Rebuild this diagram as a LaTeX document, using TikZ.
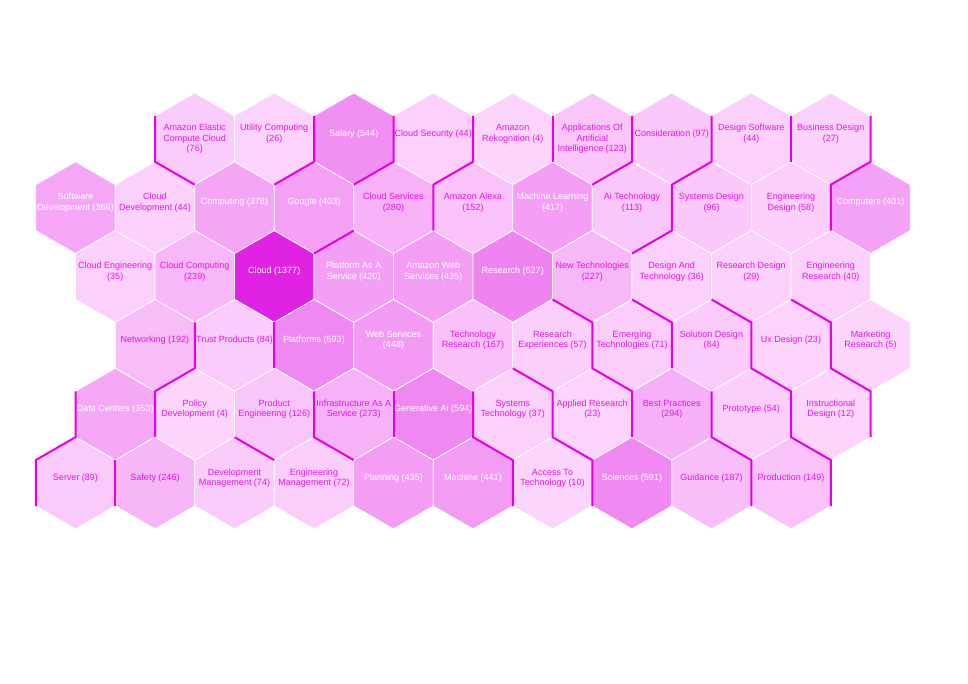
\documentclass[tikz,border=0pt]{standalone}
\usepackage{fontspec}
\setmainfont{Liberation Sans}
\usetikzlibrary{shapes.geometric}

\definecolor{hexlo}{RGB}{252,214,252}
\definecolor{hexhi}{RGB}{224,34,228}
\definecolor{hexink}{RGB}{230,20,230}
\definecolor{hexline}{RGB}{230,0,230}

\tikzset{
  hexcell/.style={regular polygon, regular polygon sides=6, regular polygon rotate=30,
    minimum size=68.85pt, inner sep=0pt, outer sep=0pt, draw=white, line width=0.6pt},
  hextext/.style={align=center, inner sep=0pt, font=\fontsize{6.75}{7.8}\selectfont},
  bound/.style={draw=hexline, line width=1.5pt}
}

% name, column, row, count, text
\newcommand{\hexcell}[6][3.75pt]{%
  \pgfmathsetmacro{\hexp}{#5/13.77}%
  \ifnum#5>299 \def\hexfg{white}\else\def\hexfg{hexink}\fi
  \node[hexcell, fill=hexhi!\hexp!hexlo,
    label={[hextext, text=\hexfg, yshift=#1]center:{#6}}]
    (#2) at ({75.5+39.75*#3},{138.8+68.85*(#4-1)}) {};
}

\begin{document}
\begin{tikzpicture}[x=0.75pt, y=-0.75pt]
\useasboundingbox (0,0) rectangle (968,684);

\hexcell[0pt]{aecc}{3}{1}{76}{Amazon Elastic\\Compute Cloud\\(76)}
\hexcell{util}{5}{1}{26}{Utility Computing\\(26)}
\hexcell{salary}{7}{1}{544}{Salary (544)}
\hexcell{csec}{9}{1}{44}{Cloud Security (44)}
\hexcell{rekog}{11}{1}{4}{Amazon\\Rekognition (4)}
\hexcell[0pt]{aai}{13}{1}{123}{Applications Of\\Artificial\\Intelligence (123)}
\hexcell{consid}{15}{1}{97}{Consideration (97)}
\hexcell{dsoft}{17}{1}{44}{Design Software\\(44)}
\hexcell{bdes}{19}{1}{27}{Business Design\\(27)}

\hexcell{sdev}{0}{2}{366}{Software\\Development (366)}
\hexcell{cdev}{2}{2}{44}{Cloud\\Development (44)}
\hexcell{comp}{4}{2}{378}{Computing (378)}
\hexcell{google}{6}{2}{403}{Google (403)}
\hexcell{csvc}{8}{2}{280}{Cloud Services\\(280)}
\hexcell{alexa}{10}{2}{152}{Amazon Alexa\\(152)}
\hexcell{ml}{12}{2}{417}{Machine Learning\\(417)}
\hexcell{aitech}{14}{2}{113}{Ai Technology\\(113)}
\hexcell{sysdes}{16}{2}{96}{Systems Design\\(96)}
\hexcell{engdes}{18}{2}{58}{Engineering\\Design (58)}
\hexcell{computers}{20}{2}{401}{Computers (401)}

\hexcell{ceng}{1}{3}{35}{Cloud Engineering\\(35)}
\hexcell{ccomp}{3}{3}{239}{Cloud Computing\\(239)}
\hexcell{cloud}{5}{3}{1377}{Cloud (1377)}
\hexcell{paas}{7}{3}{420}{Platform As A\\Service (420)}
\hexcell{aws}{9}{3}{435}{Amazon Web\\Services (435)}
\hexcell{research}{11}{3}{627}{Research (627)}
\hexcell{newtech}{13}{3}{227}{New Technologies\\(227)}
\hexcell{dat}{15}{3}{36}{Design And\\Technology (36)}
\hexcell{resdes}{17}{3}{29}{Research Design\\(29)}
\hexcell{engres}{19}{3}{40}{Engineering\\Research (40)}

\hexcell{net}{2}{4}{192}{Networking (192)}
\hexcell{trust}{4}{4}{84}{Trust Products (84)}
\hexcell{platforms}{6}{4}{593}{Platforms (593)}
\hexcell{websvc}{8}{4}{448}{Web Services\\(448)}
\hexcell{techres}{10}{4}{167}{Technology\\Research (167)}
\hexcell{resexp}{12}{4}{57}{Research\\Experiences (57)}
\hexcell{emerg}{14}{4}{71}{Emerging\\Technologies (71)}
\hexcell{soldes}{16}{4}{84}{Solution Design\\(84)}
\hexcell{ux}{18}{4}{23}{Ux Design (23)}
\hexcell{mktres}{20}{4}{5}{Marketing\\Research (5)}

\hexcell{dc}{1}{5}{353}{Data Centers (353)}
\hexcell{policy}{3}{5}{4}{Policy\\Development (4)}
\hexcell{prodeng}{5}{5}{126}{Product\\Engineering (126)}
\hexcell{iaas}{7}{5}{273}{Infrastructure As A\\Service (273)}
\hexcell{genai}{9}{5}{594}{Generative Ai (594)}
\hexcell{systech}{11}{5}{37}{Systems\\Technology (37)}
\hexcell{applres}{13}{5}{23}{Applied Research\\(23)}
\hexcell{bestpr}{15}{5}{294}{Best Practices\\(294)}
\hexcell{proto}{17}{5}{54}{Prototype (54)}
\hexcell{instr}{19}{5}{12}{Instructional\\Design (12)}

\hexcell{server}{0}{6}{89}{Server (89)}
\hexcell{safety}{2}{6}{246}{Safety (246)}
\hexcell{devmgmt}{4}{6}{74}{Development\\Management (74)}
\hexcell{engmgmt}{6}{6}{72}{Engineering\\Management (72)}
\hexcell{planning}{8}{6}{435}{Planning (435)}
\hexcell{machine}{10}{6}{441}{Machine (441)}
\hexcell{access}{12}{6}{10}{Access To\\Technology (10)}
\hexcell{sciences}{14}{6}{591}{Sciences (591)}
\hexcell{guidance}{16}{6}{187}{Guidance (187)}
\hexcell{production}{18}{6}{149}{Production (149)}

% cluster borders
\draw[bound] (aecc.150) -- (aecc.210) -- (aecc.270);
\draw[bound] (salary.150) -- (salary.210) -- (util.270);
\draw[bound] (salary.30) -- (salary.330) -- (salary.270);
\draw[bound] (csec.30) -- (csec.330) -- (csec.270) -- (csvc.330);
\draw[bound] (aai.150) -- (aai.210);
\draw[bound] (aai.30) -- (aai.330) -- (aai.270);
\draw[bound] (consid.30) -- (consid.330) -- (consid.270) -- (aitech.330) -- (aitech.270);
\draw[bound] (dsoft.30) -- (dsoft.330);
\draw[bound] (bdes.30) -- (bdes.330) -- (bdes.270) -- (computers.210);
\draw[bound] (google.330) -- (google.270);
\draw[bound] (trust.150) -- (trust.210) -- (net.270) -- (policy.210);
\draw[bound] (platforms.150) -- (platforms.210);
\draw[bound] (dc.150) -- (dc.210) -- (server.150) -- (server.210);
\draw[bound] (safety.150) -- (safety.210);
\draw[bound] (prodeng.210) -- (prodeng.270);
\draw[bound] (iaas.150) -- (iaas.210) -- (iaas.270);
\draw[bound] (genai.150) -- (genai.210);
\draw[bound] (systech.150) -- (systech.210) -- (systech.270) -- (access.210);
\draw[bound] (resexp.210) -- (resexp.270) -- (applres.210) -- (applres.270) -- (sciences.210);
\draw[bound] (newtech.210) -- (newtech.270) -- (emerg.210) -- (emerg.270) -- (bestpr.210);
\draw[bound] (dat.210) -- (dat.270) -- (emerg.330);
\draw[bound] (resdes.210) -- (resdes.270) -- (ux.210) -- (ux.270) -- (instr.210) -- (instr.270) -- (production.330);
\draw[bound] (engres.210) -- (engres.270) -- (mktres.210) -- (mktres.270) -- (instr.330);
\draw[bound] (proto.150) -- (proto.210) -- (proto.270) -- (guidance.330);

\end{tikzpicture}
\end{document}
